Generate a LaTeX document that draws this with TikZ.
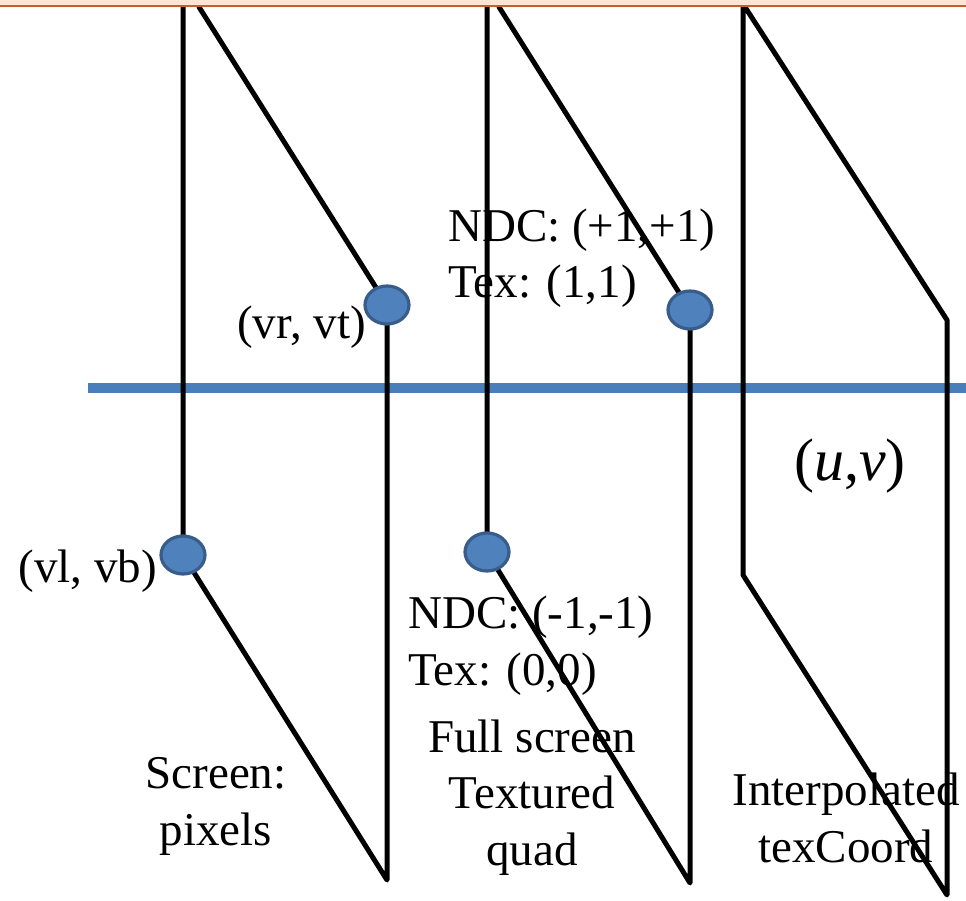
\documentclass[tikz,border=0pt]{standalone}
\usepackage{fontspec}
\setmainfont{Liberation Serif}
\usetikzlibrary{shapes.geometric}
\definecolor{dotfill}{HTML}{4F81BD}
\definecolor{dotedge}{HTML}{385D8A}
\definecolor{bluebar}{HTML}{4A7EBB}
\definecolor{peach}{HTML}{FBE5D6}
\definecolor{topline}{HTML}{C0622B}
\tikzset{
  plane/.style={line width=5pt, line join=round, line cap=round},
  dot/.style={ellipse, fill=dotfill, draw=dotedge, line width=3.2pt, minimum width=44pt, minimum height=38pt, inner sep=0pt},
  lbl/.style={inner sep=0pt, font=\fontsize{47}{56}\selectfont},
}
\begin{document}
\begin{tikzpicture}[x=1pt,y=-1pt]
\useasboundingbox (0,0) rectangle (966,901);
\fill[white] (0,0) rectangle (966,901);
% labels (under the lines)
\node[lbl, anchor=base east] (vrvt) at (366,338) {(vr, vt)};
\node[lbl, anchor=base east] (vlvb) at (157,582) {(vl, vb)};
\node[lbl, anchor=base west] (ndcp) at (448,242) {NDC: (+1,+1)};
\node[lbl, anchor=base west] (texp) at (448,298) {Tex: (1,1)};
\node[lbl, anchor=base west] (ndcm) at (408,628) {NDC: (-1,-1)};
\node[lbl, anchor=base west] (texm) at (408,685) {Tex: (0,0)};
\node[lbl, anchor=base] (fs1) at (532,752) {Full screen};
\node[lbl, anchor=base] (fs2) at (532,808) {Textured};
\node[lbl, anchor=base] (fs3) at (532,865) {quad};
\node[lbl, anchor=base] (sc1) at (216,788) {Screen:};
\node[lbl, anchor=base] (sc2) at (216,845) {pixels};
\node[lbl, anchor=base] (ip1) at (846,805) {Interpolated};
\node[lbl, anchor=base] (ip2) at (846,862) {texCoord};
\node[inner sep=0pt, font=\fontsize{60}{60}\selectfont] (uv) at (850,466) {(\textit{u},\textit{v})};
% corners
\coordinate (a1) at (183,7);
\coordinate (a2) at (183,555);
\coordinate (a3) at (387,880);
\coordinate (a4) at (387,305);
\coordinate (a5) at (199,7);
\coordinate (b1) at (487,7);
\coordinate (b2) at (487,552);
\coordinate (b3) at (690,883);
\coordinate (b4) at (690,310);
\coordinate (b5) at (499,7);
\coordinate (c1) at (743,7);
\coordinate (c2) at (743,575);
\coordinate (c3) at (947,895);
\coordinate (c4) at (947,320);
\coordinate (c5) at (745,7);
\coordinate (bl) at (88,388);
\coordinate (br) at (966,388);
% blue bar
\draw[bluebar, line width=10pt] (bl) -- (br);
% planes
\draw[plane] (a1) -- (a2) -- (a3) -- (a4) -- (a5);
\draw[plane] (b1) -- (b2) -- (b3) -- (b4) -- (b5);
\draw[plane] (c1) -- (c2) -- (c3) -- (c4) -- (c5);
% dots
\node[dot] (d1) at (a4) {};
\node[dot] (d2) at (a2) {};
\node[dot] (d3) at (b2) {};
\node[dot] (d4) at (b4) {};
% top band
\fill[peach] (0,0) rectangle (966,5.5);
\draw[topline, line width=2pt] (0,6.5) -- (966,6.5);
\end{tikzpicture}
\end{document}
